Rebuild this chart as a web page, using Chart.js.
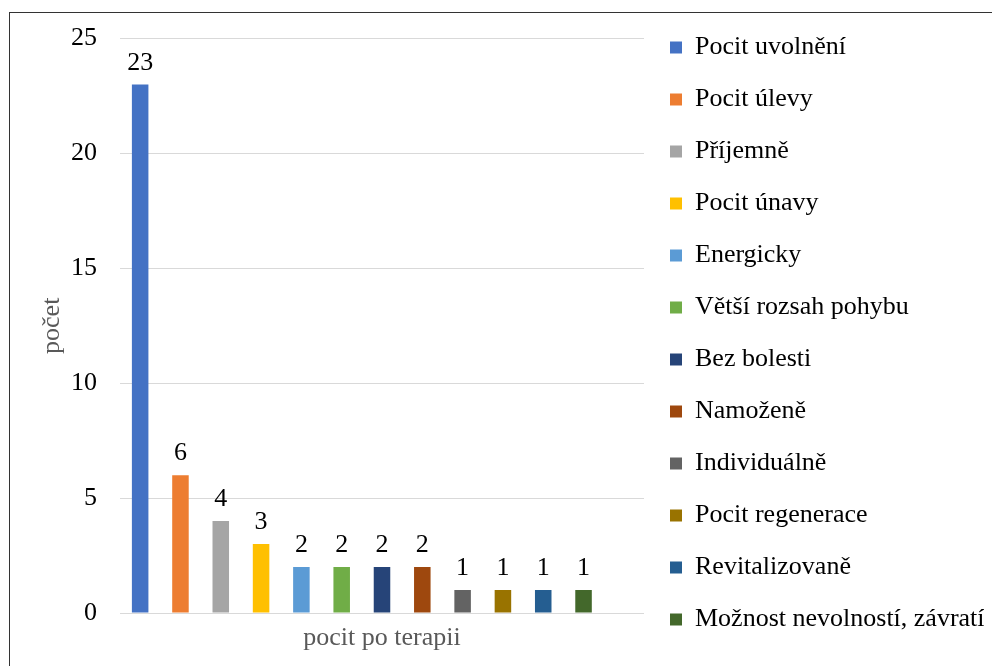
<!DOCTYPE html>
<html>
<head>
<meta charset="utf-8">
<script src="https://cdn.jsdelivr.net/npm/chart.js@4/dist/chart.umd.min.js"></script>
<style>
  html, body { margin: 0; padding: 0; background: #fff; overflow: hidden; }
  #wrap { position: relative; width: 992px; height: 666px; }
  #frame { position: absolute; left: 9px; top: 12px; width: 1000px; height: 700px; border: 1px solid #333; box-sizing: border-box; pointer-events: none; }
  canvas { position: absolute; left: 0; top: 0; }
</style>
</head>
<body>
<div id="wrap">
  <canvas id="c" width="992" height="666"></canvas>
  <div id="frame"></div>
</div>
<script>
const categories = ['pocit po terapii'];
const seriesNames = [
  'Pocit uvolnění', 'Pocit úlevy', 'Příjemně', 'Pocit únavy', 'Energicky',
  'Větší rozsah pohybu', 'Bez bolesti', 'Namoženě', 'Individuálně',
  'Pocit regenerace', 'Revitalizovaně', 'Možnost nevolností, závratí'
];
const seriesValues = [23, 6, 4, 3, 2, 2, 2, 2, 1, 1, 1, 1];
const seriesColors = [
  '#4472C4', '#ED7D31', '#A5A5A5', '#FFC000', '#5B9BD5', '#70AD47',
  '#264478', '#9E480E', '#636363', '#997300', '#255E91', '#43682B'
];
const yTicks = [0, 5, 10, 15, 20, 25];
const yTitle = 'počet';

const FONT = "'Liberation Serif', 'Times New Roman', serif";
const FS = 26;

const datasets = seriesNames.map((name, i) => ({
  label: name,
  data: [seriesValues[i]],
  backgroundColor: seriesColors[i],
  borderWidth: 0,
  barPercentage: 0.41,
  categoryPercentage: 1.0
}));
// empty trailing series slot (as in the original spreadsheet layout)
datasets.push({ label: '', data: [null], backgroundColor: 'rgba(0,0,0,0)', barPercentage: 0.41, categoryPercentage: 1.0 });

const valueLabels = {
  id: 'valueLabels',
  afterDatasetsDraw(chart) {
    const ctx = chart.ctx;
    ctx.save();
    ctx.font = FS + 'px ' + FONT;
    ctx.fillStyle = '#000';
    ctx.textAlign = 'center';
    ctx.textBaseline = 'alphabetic';
    chart.data.datasets.forEach((ds, di) => {
      const meta = chart.getDatasetMeta(di);
      meta.data.forEach((el, j) => {
        const v = ds.data[j];
        if (v === null || v === undefined) return;
        ctx.fillText(String(v), el.x, el.y - 15);
      });
    });
    ctx.restore();
  }
};

new Chart(document.getElementById('c'), {
  type: 'bar',
  data: { labels: categories, datasets },
  plugins: [valueLabels],
  options: {
    responsive: false,
    animation: false,
    events: [],
    layout: { padding: { left: 0, top: 4, bottom: 3, right: 8 } },
    plugins: {
      tooltip: { enabled: false },
      legend: {
        position: 'right',
        maxWidth: 340,
        labels: {
          filter: (item) => item.text !== '',
          font: { family: FONT, size: FS },
          color: '#000',
          boxWidth: 12,
          boxHeight: 12,
          padding: 26
        }
      }
    },
    scales: {
      x: {
        grid: { display: false, drawTicks: false },
        border: { display: false },
        ticks: { color: '#595959', font: { family: FONT, size: FS, lineHeight: 50 / 26 }, padding: 0 }
      },
      y: {
        min: 0,
        max: 25,
        afterBuildTicks: (axis) => { axis.ticks = yTicks.map(v => ({ value: v })); },
        grid: { color: '#D9D9D9', lineWidth: 1, drawTicks: false },
        border: { display: false },
        ticks: { color: '#000', font: { family: FONT, size: FS }, padding: 23 },
        title: { display: true, text: yTitle, color: '#595959', font: { family: FONT, size: FS }, padding: { top: 36.4, bottom: -19.6 } }
      }
    }
  }
});
</script>
</body>
</html>
